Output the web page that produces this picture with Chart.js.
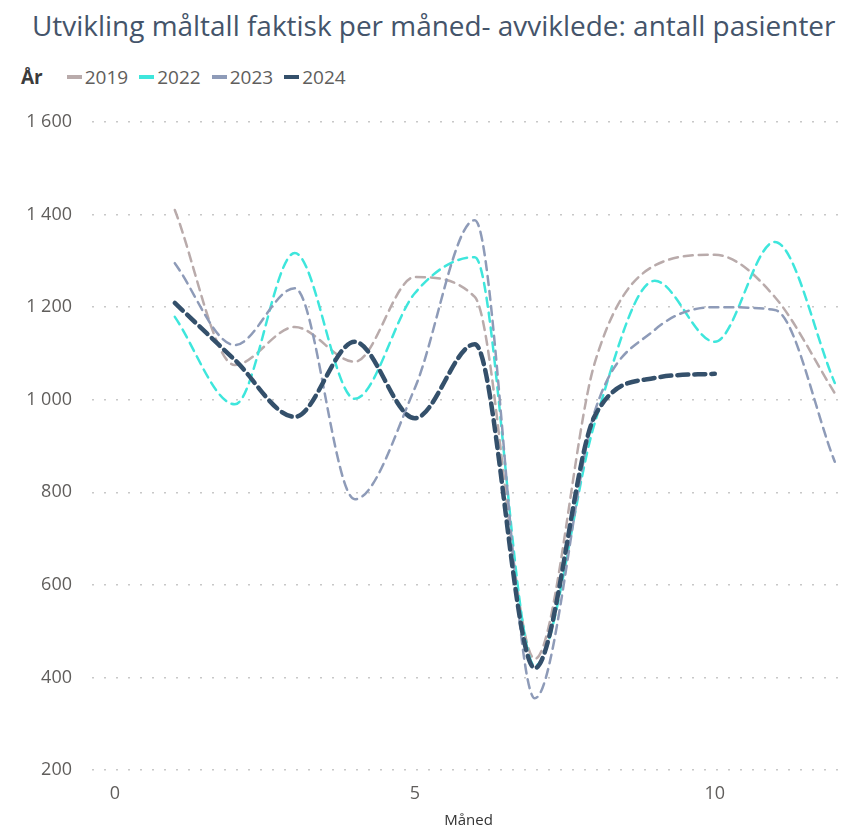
<!DOCTYPE html>
<html>
<head>
<meta charset="utf-8">
<script src="https://cdn.jsdelivr.net/npm/chart.js@4.4.1/dist/chart.umd.min.js"></script>
<style>
    body{ margin:0; background:#fff; width:849px; height:827px; overflow:hidden; position:relative; font-family:"Open Sans", sans-serif; }
    #title{ position:absolute; left:32px; top:6px; color:#44546a; font-size:25px; white-space:nowrap; }
    #legend{ position:absolute; left:21px; top:64px; display:flex; align-items:center; font-size:19px; color:#605e5c; white-space:nowrap; }
    #legend b{ color:#3b3b3b; margin-right:24px; }
    #legend .mark{ display:inline-block; width:15px; height:4px; margin-right:3px; }
    #legend .item{ display:flex; align-items:center; margin-right:11px; }
    #chart{ position:absolute; left:0; top:0; }
</style>
</head>
<body>
<div id="title">Utvikling måltall faktisk per måned- avviklede: antall pasienter</div>
<div id="legend"></div>
<canvas id="chart" width="849" height="827"></canvas>

<script>
let months = [1,2,3,4,5,6,7,8,9,10,11,12];
let years = ["2019","2022","2023","2024"];
let v2019 = [1410,1075,1157,1082,1265,1222,440,1080,1290,1313,1222,1014];
let v2022 = [1179,990,1317,1002,1230,1308,425,950,1257,1125,1341,1036];
let v2023 = [1295,1118,1241,785,1025,1388,355,975,1151,1200,1194,866];
let v2024 = [1209,1086,963,1125,960,1120,420,965,1047,1056];
let xTicks = [0,5,10];

let colors = ["#b9abab","#3ee6dc","#8e9bb8","#34506b"];

/* TITLE FIT */
let t = document.getElementById("title");
t.style.fontSize = (25 * 804 / t.offsetWidth) + "px";

/* LEGEND */
let lg = '<b>År</b>';
years.forEach((y, i) => {
    lg += `<span class="item"><span class="mark" style="background:${colors[i]}"></span>${y}</span>`;
});
document.getElementById("legend").innerHTML = lg;

function pts(vals){
    return vals.map((v, i) => ({x: months[i], y: v}));
}

function fmt(v){
    return String(v).replace(/\B(?=(\d{3})+(?!\d))/g, " ");
}

let allVals = [v2019, v2022, v2023, v2024];

let chart = new Chart(document.getElementById("chart"), {
    type: 'line',
    data: {
        datasets: years.map((y, i) => ({
            label: y,
            data: pts(allVals[i]),
            borderColor: colors[i],
            borderWidth: i === 3 ? 4.5 : 2.5,
            borderDash: i === 3 ? [11, 6] : [9, 6],
            borderCapStyle: 'round',
            cubicInterpolationMode: 'monotone',
            pointRadius: 0,
            fill: false,
            order: i === 3 ? 0 : 4 - i
        }))
    },
    options: {
        responsive: false,
        animation: false,
        layout: {
            padding: {top: 122, left: 0, right: 4, bottom: -3}
        },
        plugins: {
            legend: {display: false},
            tooltip: {enabled: false}
        },
        scales: {
            x: {
                type: 'linear',
                min: -0.38,
                max: 12.17,
                afterBuildTicks: function(s){
                    s.ticks = xTicks.map(v => ({value: v}));
                },
                afterFit: function(s){ s.height = 60; },
                grid: {display: false},
                border: {display: false},
                ticks: {
                    padding: 5,
                    color: "#605e5c",
                    font: {family: "Open Sans", size: 18}
                },
                title: {
                    display: true,
                    text: "Måned",
                    color: "#333",
                    padding: {top: 0, bottom: 0},
                    font: {family: "Open Sans", size: 15}
                }
            },
            y: {
                min: 200,
                max: 1600,
                afterFit: function(s){ s.width = 92; },
                ticks: {
                    stepSize: 200,
                    padding: 20,
                    color: "#605e5c",
                    font: {family: "Open Sans", size: 18},
                    callback: v => fmt(v)
                },
                grid: {
                    color: "#c8c8c8",
                    lineWidth: 1.5,
                    drawTicks: false
                },
                border: {display: false, dash: [2, 10]}
            }
        }
    }
});
</script>
</body>
</html>
